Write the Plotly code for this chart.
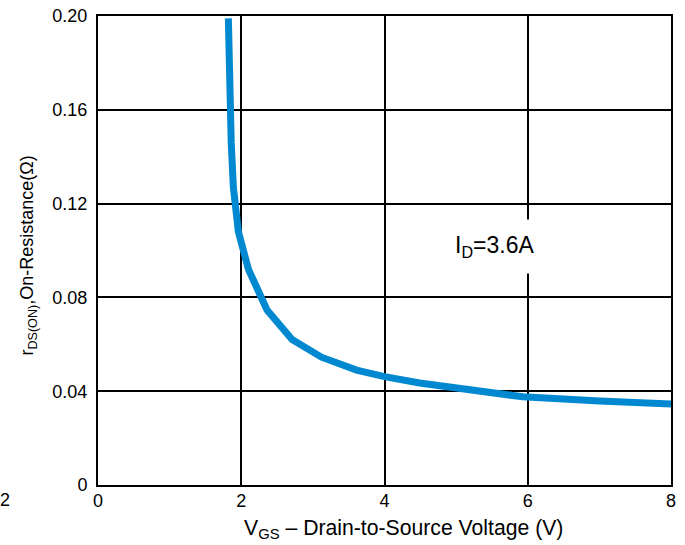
import plotly.graph_objects as go

# Data
vgs = [1.82, 1.84, 1.86, 1.89, 1.96, 2.10, 2.36, 2.71, 3.12, 3.61, 4.0, 4.49, 5.0, 5.93, 7.0, 8.0]
rds = [0.199, 0.160, 0.146, 0.127, 0.108, 0.092, 0.0746, 0.0620, 0.0545, 0.0490, 0.0462, 0.0435, 0.0412, 0.0376, 0.0358, 0.0345]

x_ticks = [0, 2, 4, 6, 8]
x_tick_text = ["0", "2", "4", "6", "8"]
y_ticks = [0, 0.04, 0.08, 0.12, 0.16, 0.20]
y_tick_text = ["0", "0.04", "0.08", "0.12", "0.16", "0.20"]

FONT = "Liberation Sans, Arial, sans-serif"

fig = go.Figure()
fig.add_trace(go.Scatter(x=vgs, y=rds, mode="lines",
                         line=dict(color="#0088D1", width=7),
                         showlegend=False, hoverinfo="skip"))

fig.update_layout(
    template="none",
    width=685, height=545,
    margin=dict(l=98, r=14, t=16, b=60, autoexpand=False),
    paper_bgcolor="white", plot_bgcolor="white",
    font=dict(family=FONT, size=18, color="black"),
    xaxis=dict(range=[0, 8], tickvals=x_ticks, ticktext=x_tick_text,
               showgrid=True, gridcolor="black", gridwidth=2,
               showline=True, linecolor="black", linewidth=2, mirror=True,
               zeroline=False, ticks="", ticklabelstandoff=-2, automargin=False,
               ticklabeloverflow="allow", tickfont=dict(size=18)),
    yaxis=dict(range=[0, 0.20], tickvals=y_ticks, ticktext=y_tick_text,
               showgrid=True, gridcolor="black", gridwidth=2,
               showline=True, linecolor="black", linewidth=2, mirror=True,
               zeroline=False, ticks="", ticklabelstandoff=5, automargin=False,
               ticklabeloverflow="allow", tickfont=dict(size=18)),
    annotations=[
        dict(text="I<sub>D</sub>=3.6A", x=5.54, y=0.1017, xref="x", yref="y",
             showarrow=False, bgcolor="white", borderpad=12,
             font=dict(size=23, family=FONT)),
        dict(text="V<sub>GS</sub> – Drain-to-Source Voltage (V)",
             x=0.534, y=-0.093, xref="paper", yref="paper", yanchor="middle",
             showarrow=False, font=dict(size=21.2, family=FONT)),
        dict(text="r<sub>DS(ON)</sub>,On-Resistance(Ω)",
             x=-0.1215, y=0.49, xref="paper", yref="paper",
             xanchor="center", yanchor="middle", textangle=-90,
             showarrow=False, font=dict(size=18, family=FONT)),
        dict(text="2", x=-0.162, y=-0.032, xref="paper", yref="paper",
             xanchor="center", yanchor="middle",
             showarrow=False, font=dict(size=18, family=FONT)),
    ],
)

fig.write_html("out.html", config={"displayModeBar": False},
               post_script="document.body.style.margin='0';")
